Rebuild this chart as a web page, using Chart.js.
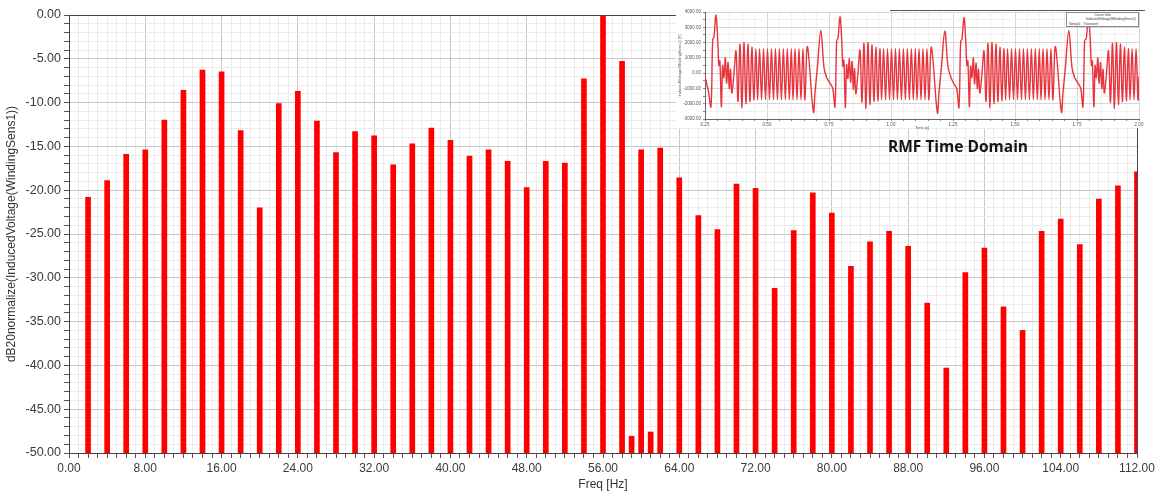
<!DOCTYPE html>
<html>
<head>
<meta charset="utf-8">
<title>RMF spectrum</title>
<script src="https://cdn.jsdelivr.net/npm/chart.js@4.4.0/dist/chart.umd.min.js"></script>
<style>
  html, body { margin: 0; padding: 0; background: #fff; }
  #stage { position: relative; width: 1161px; height: 496px; overflow: hidden; }
  #spectrum { position: absolute; left: 0; top: 0; }
  #insetBox { position: absolute; left: 676px; top: 0; width: 482px; height: 128px; background: #fff; }
  #insetTopRule { position: absolute; left: 890px; top: 10px; width: 255px; height: 1px; background: #555; }
  #insetLegend { position: absolute; left: 1066px; top: 12px; width: 73px; height: 15px; border: 1px solid #8a8a8a; background: #fff;
    font: 3.6px "Liberation Sans", Arial, sans-serif; color: #333; line-height: 4.4px; box-sizing: border-box; padding: 0 2px; }
  #insetLegend .c { text-align: center; }
  #insetLegend .r { text-align: right; }
  #rmfLabel { position: absolute; left: 888px; top: 138px; font: 700 15.5px "Open Sans", sans-serif; line-height: 16px; color: #141414; white-space: nowrap; }
</style>
</head>
<body>
<div id="stage">
  <canvas id="spectrum" width="1161" height="496"></canvas>
  <div id="insetBox"><canvas id="rmfTime" width="482" height="130"></canvas></div>
  <div id="insetTopRule"></div>
  <div id="insetLegend">
    <div class="c">Curve Info</div>
    <div class="r">InducedVoltage(WindingSens1)</div>
    <div>Setup1 : Transient</div>
  </div>
  <div id="rmfLabel">RMF Time Domain</div>
</div>
<script>
/* Spectrum of the induced voltage, plus the small time-domain inset */
const freqHz = [2, 4, 6, 8, 10, 12, 14, 16, 18, 20, 22, 24, 26, 28, 30, 32, 34, 36, 38, 40,
  42, 44, 46, 48, 50, 52, 54, 56, 58, 59, 60, 61, 62, 64, 66, 68, 70, 72, 74, 76,
  78, 80, 82, 84, 86, 88, 90, 92, 94, 96, 98, 100, 102, 104, 106, 108, 110, 112];
const levelDb = [-20.8, -18.9, -15.9, -15.4, -12.0, -8.6, -6.3, -6.5, -13.2, -22.0, -10.1, -8.7, -12.1, -15.7, -13.3, -13.8, -17.1, -14.7, -12.9, -14.3,
  -16.1, -15.4, -16.7, -19.7, -16.7, -16.9, -7.3, 0.0, -5.3, -48.1, -15.4, -47.6, -15.2, -18.6, -22.9, -24.5, -19.3, -19.8, -31.2, -24.6,
  -20.3, -22.6, -28.7, -25.9, -24.7, -26.4, -32.9, -40.3, -29.4, -26.6, -33.3, -36.0, -24.7, -23.3, -26.2, -21.0, -19.5, -17.9];
const xLabelTicks = [0, 8, 16, 24, 32, 40, 48, 56, 64, 72, 80, 88, 96, 104, 112];
const yLabelTicks = [0, -5, -10, -15, -20, -25, -30, -35, -40, -45, -50];
const dbFloor = -50;

// inset: time [s], voltage [V]
const rmfSamples = [
  [0.250,-300],[0.254,-450],[0.258,-800],[0.263,-1100],[0.274,-2200],[0.281,2200],[0.286,2350],[0.294,3800],[0.301,2300],[0.306,500],
  [0.310,800],[0.316,-2200],[0.321,500],[0.326,-300],[0.332,1000],[0.337,-650],[0.343,700],[0.348,-1000],[0.353,250],[0.358,-1300],[0.366,-200],
  [0.375,1450],[0.383,-1850],[0.391,1900],[0.399,-2250],[0.407,2000],[0.415,-2000],[0.423,1900],[0.431,-1850],[0.439,1700],[0.447,-1750],
  [0.455,1600],[0.462,-1750],[0.470,1600],[0.478,-1750],[0.486,1600],[0.494,-1750],[0.502,1600],[0.510,-1750],[0.518,1600],[0.526,-1750],
  [0.534,1600],[0.542,-1750],[0.550,1600],[0.558,-1750],[0.566,1600],[0.574,-1750],[0.582,1600],[0.590,-1750],[0.598,1600],[0.605,-1750],
  [0.613,1600],[0.621,-1750],[0.629,1600],[0.637,-1750],[0.645,1600],[0.653,-1750],
  [0.663,1750],[0.687,-2550],[0.694,-1200],[0.703,350],[0.717,2800],[0.730,350],[0.741,-300],[0.754,-650],[0.765,-1000],[0.774,-2200],
  [0.781,2150],[0.786,2250],[0.794,3700],
  [0.801,2300],[0.806,450],[0.810,850],[0.816,-2250],[0.821,550],[0.826,-350],[0.832,950],[0.837,-600],[0.843,750],[0.848,-1050],[0.853,300],
  [0.858,-1350],[0.866,-150],
  [0.875,1500],[0.883,-1900],[0.891,1950],[0.899,-2300],[0.907,2000],[0.915,-2050],[0.923,1850],[0.931,-1850],[0.939,1700],[0.947,-1800],
  [0.955,1600],[0.962,-1750],[0.970,1600],[0.978,-1750],[0.986,1600],[0.994,-1750],[1.002,1600],[1.010,-1750],[1.018,1600],[1.026,-1750],
  [1.034,1600],[1.042,-1750],[1.050,1600],[1.058,-1750],[1.066,1600],[1.074,-1750],[1.082,1600],[1.090,-1750],[1.098,1600],[1.105,-1750],
  [1.113,1600],[1.121,-1750],[1.129,1600],[1.137,-1750],[1.145,1600],[1.153,-1750],
  [1.163,1700],[1.187,-2600],[1.194,-1150],[1.203,300],[1.217,2750],[1.230,400],[1.241,-250],[1.254,-700],[1.265,-1000],[1.274,-2250],
  [1.281,2100],[1.286,2200],[1.294,3650],
  [1.301,2250],[1.306,500],[1.310,800],[1.316,-2200],[1.321,450],[1.326,-300],[1.332,1000],[1.337,-700],[1.343,650],[1.348,-1000],[1.353,250],
  [1.358,-1300],[1.366,-200],
  [1.375,1450],[1.383,-1850],[1.391,1950],[1.399,-2250],[1.407,2000],[1.415,-2000],[1.423,1900],[1.431,-1850],[1.439,1700],[1.447,-1800],
  [1.455,1600],[1.462,-1750],[1.470,1600],[1.478,-1750],[1.486,1600],[1.494,-1750],[1.502,1600],[1.510,-1750],[1.518,1600],[1.526,-1750],
  [1.534,1600],[1.542,-1750],[1.550,1600],[1.558,-1750],[1.566,1600],[1.574,-1750],[1.582,1600],[1.590,-1750],[1.598,1600],[1.605,-1750],
  [1.613,1600],[1.621,-1750],[1.629,1600],[1.637,-1750],[1.645,1600],[1.653,-1750],
  [1.663,1750],[1.687,-2550],[1.694,-1200],[1.703,350],[1.717,2800],[1.730,350],[1.741,-300],[1.754,-650],[1.765,-1000],[1.774,-2200],
  [1.781,2150],[1.787,2250],[1.796,3700],
  [1.803,2300],[1.808,500],[1.812,800],[1.818,-2200],[1.823,500],[1.828,-300],[1.834,1000],[1.839,-650],[1.845,700],[1.850,-1000],[1.855,250],
  [1.860,-1300],[1.868,-200],
  [1.877,1450],[1.885,-1900],[1.893,1950],[1.901,-2300],[1.909,2000],[1.917,-2050],[1.925,1900],[1.933,-1850],[1.941,1700],[1.949,-1800],
  [1.957,1600],[1.964,-1750],[1.972,1600],[1.980,-1750],[1.988,1600],[1.996,-1750],[2.000,-200]
];
const rmfTimeLabels = [0.25, 0.5, 0.75, 1.0, 1.25, 1.5, 1.75, 2.0];
const rmfVoltLabels = [-3000, -2000, -1000, 0, 1000, 2000, 3000, 4000];

Chart.defaults.font.family = '"Liberation Sans", Arial, sans-serif';
Chart.defaults.color = '#3a3a3a';

function stepTicks(from, to, step) {
  const t = [];
  for (let v = from; v <= to + 1e-9; v += step) t.push({ value: Math.round(v * 1000) / 1000 });
  return t;
}

// top and right edges of the plot window
const frameBox = {
  id: 'frameBox',
  afterDraw(chart) {
    const { ctx, chartArea: a } = chart;
    ctx.save();
    ctx.strokeStyle = '#444';
    ctx.lineWidth = 1;
    ctx.beginPath();
    ctx.moveTo(a.left, a.top + 0.5);
    ctx.lineTo(a.right + 0.5, a.top + 0.5);
    ctx.lineTo(a.right + 0.5, a.bottom);
    ctx.stroke();
    ctx.restore();
  }
};

new Chart(document.getElementById('spectrum'), {
  type: 'bar',
  data: {
    datasets: [{
      data: freqHz.map((f, i) => ({ x: f, y: [dbFloor, levelDb[i]] })),
      backgroundColor: '#ff0000',
      borderWidth: 0,
      barThickness: 5
    }]
  },
  options: {
    responsive: false,
    animation: false,
    layout: { padding: { top: 15, right: 24, left: 0, bottom: 0 } },
    plugins: { legend: { display: false }, tooltip: { enabled: false } },
    scales: {
      x: {
        type: 'linear', min: 0, max: 112, offset: false,
        afterBuildTicks: s => { s.ticks = stepTicks(0, 112, 1); },
        afterFit: s => { s.height = 43; },
        ticks: {
          autoSkip: false, maxRotation: 0, minRotation: 0, padding: 3,
          font: { size: 12 },
          callback: v => xLabelTicks.includes(v) ? v.toFixed(2) : ''
        },
        grid: {
          offset: false, tickLength: 5, tickColor: '#555',
          color: c => (c.tick && xLabelTicks.includes(c.tick.value)) ? '#c8c8c8' : '#ebebeb'
        },
        border: { color: '#444', width: 1 },
        title: { display: true, text: 'Freq [Hz]', font: { size: 12 }, color: '#333', padding: { top: 2, bottom: 4 } }
      },
      y: {
        min: dbFloor, max: 0,
        afterBuildTicks: s => { s.ticks = stepTicks(-50, 0, 1); },
        afterFit: s => { s.width = 69; },
        ticks: {
          autoSkip: false, padding: 3,
          font: { size: 12.5 },
          callback: v => yLabelTicks.includes(v) ? v.toFixed(2) : ''
        },
        grid: {
          tickLength: 5, tickColor: '#555',
          color: c => (c.tick && yLabelTicks.includes(c.tick.value)) ? '#c8c8c8' : '#ebebeb'
        },
        border: { color: '#444', width: 1 },
        title: { display: true, text: 'dB20normalize(InducedVoltage(WindingSens1))', font: { size: 12 }, color: '#333', padding: 4 }
      }
    }
  },
  plugins: [frameBox]
});

// small time-domain trace in the corner
new Chart(document.getElementById('rmfTime'), {
  type: 'line',
  data: {
    datasets: [{
      data: rmfSamples.map(p => ({ x: p[0], y: p[1] })),
      borderColor: '#e8343c',
      borderWidth: 1.4,
      pointRadius: 0,
      tension: 0.35
    }]
  },
  options: {
    responsive: false,
    animation: false,
    layout: { padding: { top: 12, right: 19, left: 0, bottom: 0 } },
    plugins: { legend: { display: false }, tooltip: { enabled: false } },
    scales: {
      x: {
        type: 'linear', min: 0.25, max: 2.0,
        afterBuildTicks: s => { s.ticks = stepTicks(0.25, 2.0, 0.05); },
        afterFit: s => { s.height = 11; },
        ticks: {
          autoSkip: false, maxRotation: 0, minRotation: 0, padding: 1, font: { size: 4.5 }, color: '#555',
          callback: v => rmfTimeLabels.some(l => Math.abs(l - v) < 1e-6) ? v.toFixed(2) : ''
        },
        grid: {
          tickLength: 2, tickColor: '#888',
          color: c => (c.tick && rmfTimeLabels.some(l => Math.abs(l - c.tick.value) < 1e-6)) ? '#d6d6d6' : '#f0f0f0'
        },
        border: { color: '#666', width: 1 },
        title: { display: true, text: 'Time [s]', font: { size: 4 }, color: '#555', padding: 0 }
      },
      y: {
        min: -3000, max: 4000,
        afterBuildTicks: s => { s.ticks = stepTicks(-3000, 4000, 500); },
        afterFit: s => { s.width = 29; },
        ticks: {
          autoSkip: false, padding: 2, font: { size: 4.5 }, color: '#555',
          callback: v => rmfVoltLabels.includes(v) ? v.toFixed(2) : ''
        },
        grid: {
          tickLength: 2, tickColor: '#888',
          color: c => (c.tick && rmfVoltLabels.includes(c.tick.value)) ? '#d6d6d6' : '#f0f0f0'
        },
        border: { color: '#666', width: 1 },
        title: { display: true, text: 'InducedVoltage(WindingSens1) [V]', font: { size: 4 }, color: '#555', padding: 1 }
      }
    }
  }
});
</script>
</body>
</html>
